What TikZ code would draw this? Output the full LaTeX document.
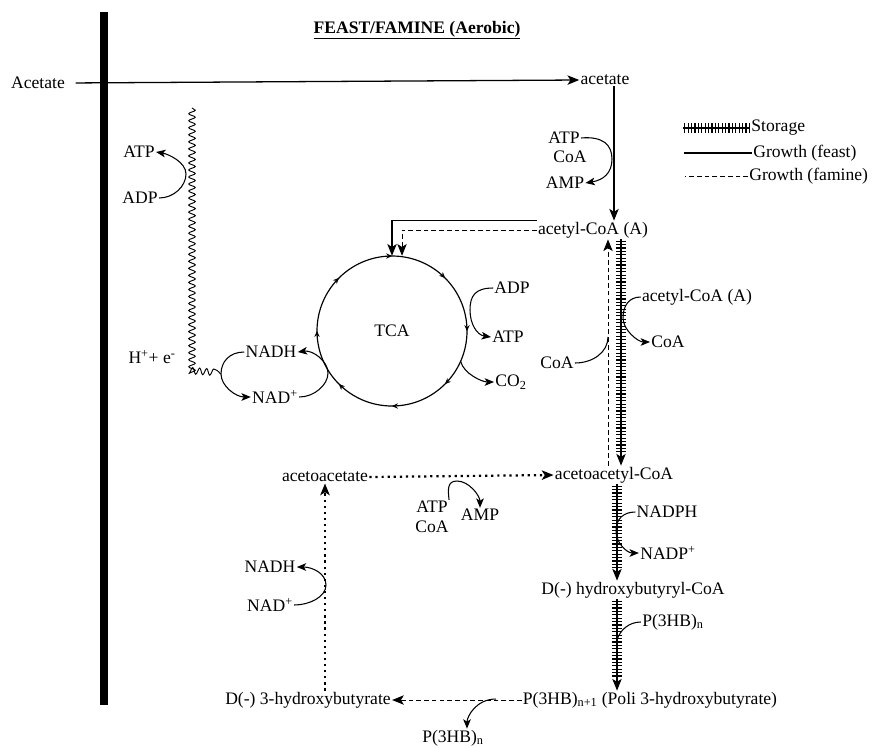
\documentclass[tikz,border=0pt]{standalone}
\usepackage{fontspec}
\setmainfont{Liberation Serif}
\usetikzlibrary{arrows.meta,calc,decorations.pathmorphing,decorations.markings}

\begin{document}
\begin{tikzpicture}[x=0.03cm, y=-0.03cm,
  every node/.style={font=\fontsize{15}{17}\selectfont, inner sep=1pt},
  tip/.style={-{Stealth[length=10pt, width=8pt, inset=2.5pt]}},
  feast/.style={tip, line width=1.1pt},
  famine/.style={tip, line width=0.8pt, dash pattern=on 4pt off 2.6pt},
  dots/.style={tip, line width=1.9pt, dash pattern=on 1.9pt off 3.3pt},
  hatch/.style={postaction={draw, -, line width=8pt, dash pattern=on 1pt off 1.9pt, #1}},
  hatch/.default={},
  storage/.style={feast, hatch={shorten >=11pt, shorten <=1pt}},
  side/.style={-{Stealth[length=8pt, width=6.5pt, inset=2pt]}, line width=0.9pt},
  twig/.style={line width=0.9pt},
  wavy/.style={line width=0.8pt, decorate, decoration={snake, amplitude=2.8pt, segment length=6pt}}
]
\useasboundingbox (0,0) rectangle (872,747);

% labels
\node[font=\bfseries\fontsize{15}{17}\selectfont] (title) at (417,30) {\underline{FEAST/FAMINE (Aerobic)}};
\node (Acet) at (38,83) {Acetate};
\node (acet) at (605,80) {acetate};
\node (atpA) at (564,138) {ATP};
\node (coaA) at (570,157) {CoA};
\node (ampA) at (565,183) {AMP};
\node (acA) at (593,230) {acetyl-CoA (A)};
\node[circle, minimum size=4.5cm, inner sep=0pt] (tca) at (392,331) {TCA};
\node (adp) at (512,288) {ADP};
\node (atpT) at (508,337) {ATP};
\node (co2) at (511,382) {CO\textsubscript{2}};
\node (nadhA) at (271,352) {NADH};
\node (nadA) at (275,397) {NAD\textsuperscript{+}};
\node (hel) at (152,357) {H\textsuperscript{+}+ e\textsuperscript{-}};
\node (atpL) at (139,152) {ATP};
\node (adpL) at (140,198) {ADP};
\node (coaL) at (557,363) {CoA};
\node (acB) at (697,297) {acetyl-CoA (A)};
\node (coaR) at (668,342) {CoA};
\node (acac) at (325,477) {acetoacetate};
\node (acaC) at (614,475) {acetoacetyl-CoA};
\node (atpM) at (432,507) {ATP};
\node (coaM) at (432,527) {CoA};
\node (ampM) at (480,515) {AMP};
\node (nadph) at (667,512) {NADPH};
\node (nadpp) at (668,553) {NADP\textsuperscript{+}};
\node (hbC) at (633,590) {D(-) hydroxybutyryl-CoA};
\node (phbA) at (673,622) {P(3HB)\textsubscript{n}};
\node (nadhB) at (270,567) {NADH};
\node (nadB) at (270,605) {NAD\textsuperscript{+}};
\node (hba) at (308,700) {D(-) 3-hydroxybutyrate};
\node (phbN) at (650,700) {P(3HB)\textsubscript{n+1} (Poli 3-hydroxybutyrate)};
\node (phbB) at (453,738) {P(3HB)\textsubscript{n}};

% key
\node[anchor=west] (keyS) at (750,128) {Storage};
\node[anchor=west] (keyF) at (752,153) {Growth (feast)};
\node[anchor=west] (keyM) at (748,176) {Growth (famine)};
\draw[line width=1.1pt, hatch] (keyS.west) -- ++(-67,0);
\draw[line width=1.1pt] (keyF.west) -- ++(-68,0);
\draw[line width=0.8pt, dash pattern=on 4pt off 2.6pt] (keyM.west) -- ++(-63,0);

% x positions of the vertical pathways
\coordinate (xA) at (614,0);
\coordinate (xD) at (608,0);
\coordinate (xS) at (621,0);
\coordinate (xT) at (617,0);
\coordinate (xV) at (325,0);

% membrane
\draw[line width=0.24cm] (104,12) -- (104,705);

% feast
\draw[feast, shorten <=8pt] (Acet.east) -- (acet.west);
\draw[feast] (acet.south -| xA) -- (acA.north -| xA);
\draw[feast] (acA.north west) -| (tca.north);
\coordinate (kA) at (612,159);
\draw[side] (atpA.east) .. controls +(22,-2) and +(0,-14) .. (kA)
  .. controls +(0,14) and +(18,-3) .. (ampA.east);

% TCA cycle
\draw[line width=1pt, postaction={decorate}, decoration={markings,
  mark=between positions 0 and 0.99 step 0.125 with {\arrowreversed{Stealth[length=5pt, width=4.5pt]}}}]
  (tca.center) circle[radius=2.25cm];
\coordinate (kR) at (470,310);
\draw[side] (adp.west) .. controls +(-18,0) and +(0,-14) .. (kR)
  .. controls +(0,14) and +(-14,-2) .. (atpT.west);
\draw[side] (tca.-24) .. controls +(3,12) and +(-12,0) .. (co2.west);
\coordinate (kL) at (328,373);
\draw[side] (nadA.east) .. controls +(15,0) and +(0,12) .. (kL)
  .. controls +(0,-12) and +(15,-2) .. (nadhA.east);
\coordinate (kW) at (221,374);
\draw[side] (nadhA.west) .. controls +(-15,0) and +(0,-12) .. (kW)
  .. controls +(0,12) and +(-15,0) .. (nadA.west);
\draw[wavy] (192,108) -- (192,372) -- (kW);
\coordinate (kT) at (186,174);
\draw[side] (adpL.east) .. controls +(15,0) and +(0,12) .. (kT)
  .. controls +(0,-12) and +(12,2) .. (atpL.east);

% famine
\draw[famine] (acA.west) -| ($(tca.north)+(10,0)$);
\draw[famine] (acaC.north -| xD) -- (acA.south -| xD);
\coordinate (kC) at (608,337);
\draw[twig] (coaL.east) .. controls +(18,0) and +(0,15) .. (kC);
\draw[famine] (phbN.west) -- (hba.east);
\coordinate (kB) at (496,699);
\draw[side] (kB) .. controls +(-20,0) and +(0,-12) .. ($(phbB.north)+(14,0)$);
\draw[dots] (hba.north -| xV) -- (acac.south -| xV);
\coordinate (kV) at (326,585);
\draw[side] (nadB.east) .. controls +(15,0) and +(0,12) .. (kV)
  .. controls +(0,-12) and +(15,0) .. (nadhB.east);
\draw[dots] (acac.east) -- (acaC.west);
\coordinate (kM) at (457,481);
\draw[side] (atpM.north east) .. controls +(-1,-10) and +(-10,0) .. (kM)
  .. controls +(12,0) and +(0,-12) .. (ampM.north);

% storage
\draw[storage] (acA.south -| xS) -- (acaC.north -| xS);
\coordinate (kS) at (623,318);
\draw[side] (acB.west) .. controls +(-12,0) and +(0,-12) .. (kS)
  .. controls +(0,12) and +(-12,0) .. (coaR.west);
\draw[storage] (acaC.south -| xT) -- (hbC.north -| xT);
\coordinate (kN) at (616,531);
\draw[side] (nadph.west) .. controls +(-12,0) and +(0,-12) .. (kN)
  .. controls +(0,12) and +(-12,0) .. (nadpp.west);
\draw[storage] (hbC.south -| xT) -- (phbN.north -| xT);
\coordinate (kP) at (617,640);
\draw[twig] (phbA.west) .. controls +(-12,0) and +(3,-10) .. (kP);
\end{tikzpicture}
\end{document}
